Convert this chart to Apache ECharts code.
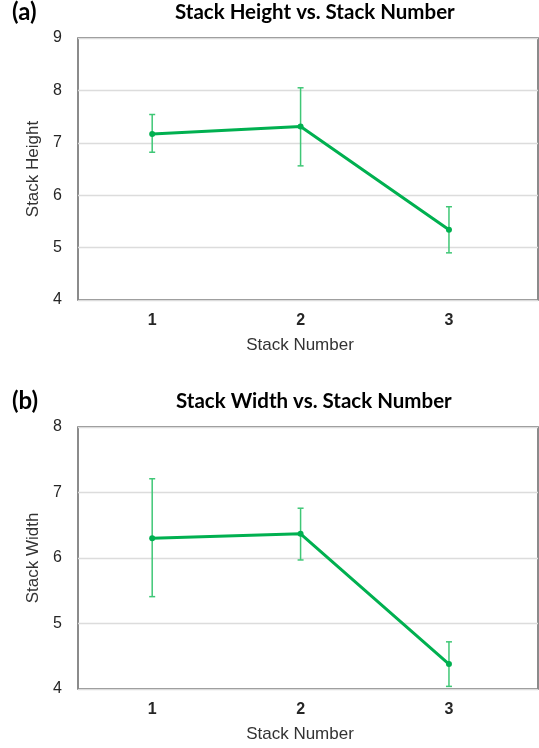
<!DOCTYPE html>
<html>
<head>
<meta charset="utf-8">
<script src="https://cdn.jsdelivr.net/npm/echarts@6/dist/echarts.min.js"></script>
<style>
html,body{margin:0;padding:0;background:#fff;}
#chart{width:539px;height:748px;}
</style>
</head>
<body>
<div id="chart"></div>
<script>
// ---- data ----
var categories = ['1', '2', '3'];
var heightMean  = [7.17, 7.31, 5.34];
var heightUpper = [7.54, 8.05, 5.78];
var heightLower = [6.82, 6.56, 4.90];
var widthMean   = [6.30, 6.37, 4.38];
var widthUpper  = [7.21, 6.76, 4.72];
var widthLower  = [5.41, 5.97, 4.04];
var heightTicks = [4, 5, 6, 7, 8, 9];
var widthTicks  = [4, 5, 6, 7, 8];

var GREEN = '#00b050';
var ERR = '#3fc776';
var FONT = '"Liberation Sans", Arial, sans-serif';
var TFONT = 'Lato, "Open Sans", sans-serif';

function pts(vals) {
  return vals.map(function (v, i) { return [i + 1, v]; });
}
function errData(lo, hi) {
  return lo.map(function (l, i) { return [i + 1, l, hi[i]]; });
}
function renderErr(params, api) {
  var x = api.value(0);
  var lo = api.coord([x, api.value(1)]);
  var hi = api.coord([x, api.value(2)]);
  var hw = 3;
  var st = { stroke: ERR, lineWidth: 1.5 };
  return {
    type: 'group',
    children: [
      { type: 'line', shape: { x1: hi[0], y1: hi[1], x2: lo[0], y2: lo[1] }, style: st },
      { type: 'line', shape: { x1: hi[0] - hw, y1: hi[1], x2: hi[0] + hw, y2: hi[1] }, style: st },
      { type: 'line', shape: { x1: lo[0] - hw, y1: lo[1], x2: lo[0] + hw, y2: lo[1] }, style: st }
    ]
  };
}

function xAxisCfg(idx) {
  return {
    type: 'value', gridIndex: idx, min: 0.5, max: 3.6, interval: 0.5,
    axisLine: { show: false }, axisTick: { show: false }, splitLine: { show: false },
    axisLabel: {
      margin: 13, fontSize: 16, fontWeight: 'bold', color: '#262626', fontFamily: FONT,
      showMaxLabel: false,
      formatter: function (v) {
        var i = Math.round(v) - 1;
        return (Math.abs(v - Math.round(v)) < 1e-6 && categories[i]) ? categories[i] : '';
      }
    },
    name: 'Stack Number', nameLocation: 'middle', nameGap: 37,
    nameTextStyle: { fontSize: 17, color: '#333', fontFamily: FONT, padding: [0, 16, 0, 0] }
  };
}
function yAxisCfg(idx, ticks, name) {
  return {
    type: 'value', gridIndex: idx, min: ticks[0], max: ticks[ticks.length - 1], interval: 1,
    axisLine: { show: false }, axisTick: { show: false },
    splitLine: { show: true, lineStyle: { color: '#dcdcdc', width: 1.3 } },
    axisLabel: { margin: 16, fontSize: 16, color: '#262626', fontFamily: FONT },
    name: name, nameLocation: 'middle', nameGap: 33,
    nameTextStyle: { fontSize: 17, color: '#333', fontFamily: FONT }
  };
}

var chart = echarts.init(document.getElementById('chart'));
chart.setOption({
  backgroundColor: '#fff',
  animation: false,
  title: [
    { text: '(a)', left: 12, top: 0, padding: 0, textStyle: { fontFamily: TFONT, fontSize: 24, fontWeight: 'bold', color: '#000' } },
    { text: 'Stack Height vs. Stack Number', left: 175, top: 2, padding: 0, textStyle: { fontFamily: TFONT, fontSize: 20.5, fontWeight: 'bold', color: '#000' } },
    { text: '(b)', left: 12, top: 389, padding: 0, textStyle: { fontFamily: TFONT, fontSize: 24, fontWeight: 'bold', color: '#000' } },
    { text: 'Stack Width vs. Stack Number', left: 176, top: 391, padding: 0, textStyle: { fontFamily: TFONT, fontSize: 20.5, fontWeight: 'bold', color: '#000' } }
  ],
  grid: [
    { left: 78, right: 1, top: 38, height: 262, show: true, borderColor: '#666', borderWidth: 1.5, backgroundColor: '#fff' },
    { left: 78, right: 1, top: 427, height: 262, show: true, borderColor: '#666', borderWidth: 1.5, backgroundColor: '#fff' }
  ],
  xAxis: [xAxisCfg(0), xAxisCfg(1)],
  yAxis: [yAxisCfg(0, heightTicks, 'Stack Height'), yAxisCfg(1, widthTicks, 'Stack Width')],
  series: [
    { type: 'custom', xAxisIndex: 0, yAxisIndex: 0, renderItem: renderErr, data: errData(heightLower, heightUpper), z: 2 },
    { type: 'line', xAxisIndex: 0, yAxisIndex: 0, data: pts(heightMean), symbol: 'circle', symbolSize: 6,
      lineStyle: { color: GREEN, width: 3 }, itemStyle: { color: GREEN }, z: 3 },
    { type: 'custom', xAxisIndex: 1, yAxisIndex: 1, renderItem: renderErr, data: errData(widthLower, widthUpper), z: 2 },
    { type: 'line', xAxisIndex: 1, yAxisIndex: 1, data: pts(widthMean), symbol: 'circle', symbolSize: 6,
      lineStyle: { color: GREEN, width: 3 }, itemStyle: { color: GREEN }, z: 3 }
  ]
});
</script>
</body>
</html>
